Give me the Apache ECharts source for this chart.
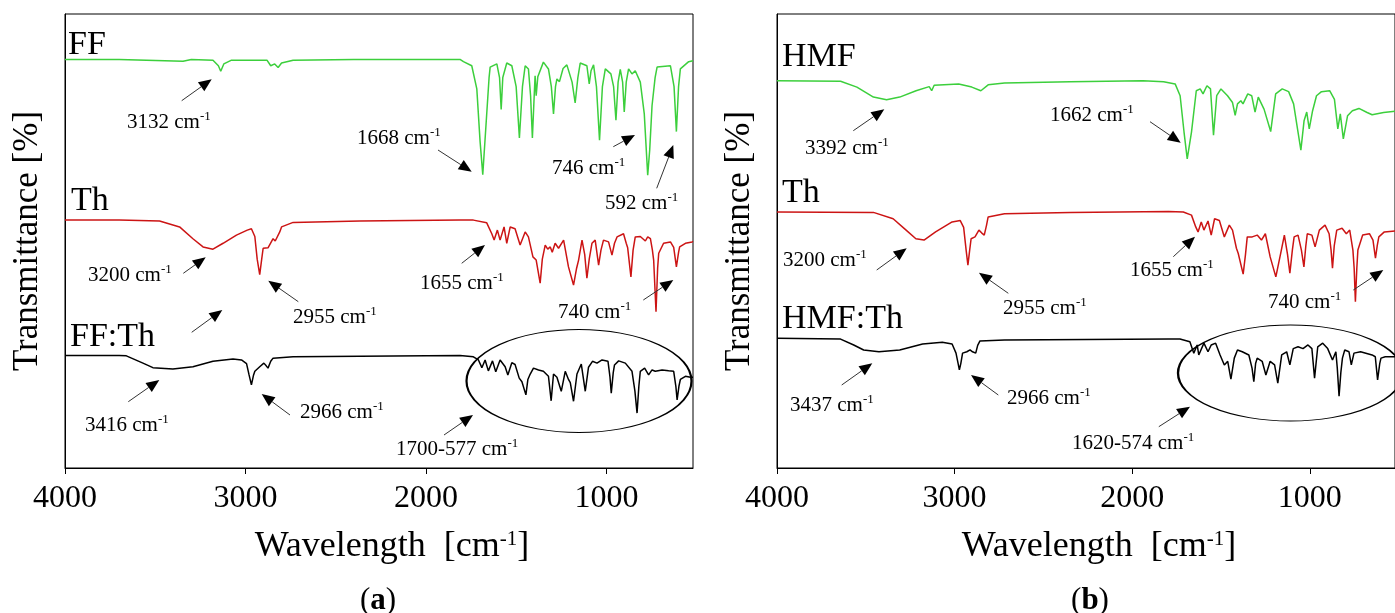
<!DOCTYPE html>
<html><head><meta charset="utf-8">
<script src="https://cdn.jsdelivr.net/npm/echarts@6/dist/echarts.min.js"></script>
<style>html,body{margin:0;padding:0;background:#fff}#c{width:1395px;height:613px}</style>
</head><body><div id="c"></div>
<script>
// ---------- data (wavenumber [cm-1], transmittance offset [%]) ----------
const xTicks = [1000, 2000, 3000, 4000];

const ffA = [[4000,90.0],[3700,90.0],[3346,89.6],[3300,90.0],[3180,89.8],[3150,88.6],[3137,87.4],[3120,89.0],[3080,89.8],[2880,89.8],[2860,88.6],[2850,88.3],[2838,89.0],[2819,88.2],[2800,89.2],[2736,89.8],[2400,90.0],[1811,90.0],[1792,89.5],[1746,88.6],[1718,83.5],[1700,72],[1685,64.6],[1666,76.2],[1650,86],[1644,88.3],[1607,89.0],[1592,86],[1583,79.0],[1574,86],[1552,89.2],[1524,88.6],[1500,84],[1482,72.7],[1465,84],[1450,88.6],[1432,87.9],[1420,82],[1410,72.7],[1400,82],[1395,86.4],[1389,82.0],[1380,86.2],[1349,89.4],[1321,87.9],[1305,84],[1293,78.0],[1282,84],[1274,85.7],[1267,86],[1260,85.1],[1240,88],[1219,88.8],[1190,85],[1173,80.4],[1158,86],[1145,89.2],[1108,88.6],[1095,84.6],[1085,87.5],[1071,88.8],[1055,84],[1038,72.2],[1022,84],[1006,87.9],[975,86.8],[960,84],[947,76.6],[935,85],[923,87.8],[910,85],[901,78.4],[890,85],[877,87.9],[858,86.8],[840,87.5],[812,85.0],[790,78],[771,64.5],[760,70],[747,79.8],[730,86],[719,88.3],[645,88.6],[625,84],[612,74.1],[600,84],[590,87.9],[544,89.5],[520,89.7]];

const thA = [[4000,54.6],[3700,54.6],[3476,54.4],[3365,53.1],[3291,50.5],[3235,48.7],[3180,48.2],[3124,49.5],[3050,51.3],[2990,52.4],[2967,52.7],[2948,51.0],[2935,46],[2921,42.6],[2910,46],[2902,48.4],[2875,48.5],[2847,50.5],[2835,50.0],[2825,49.7],[2810,52],[2800,53.1],[2736,54.1],[2366,54.4],[1811,54.6],[1737,54.6],[1663,54.0],[1635,51.6],[1622,50.2],[1604,52.4],[1589,50.2],[1567,53.1],[1552,49.5],[1533,53.1],[1506,52.7],[1478,49.1],[1450,52.0],[1432,50.9],[1407,46.5],[1389,45.8],[1367,40.7],[1355,46],[1339,49.1],[1325,48.2],[1311,48.7],[1300,47.5],[1284,49.5],[1265,48.4],[1237,50.2],[1210,44.3],[1182,40.3],[1165,44],[1154,45.8],[1135,50.2],[1120,47],[1108,41.8],[1095,46],[1080,49.5],[1062,50.2],[1043,44.7],[1030,48],[1016,50.2],[988,49.8],[969,46.9],[955,49.5],[941,50.9],[905,51.6],[890,49.5],[882,48.5],[864,42.1],[852,48],[840,50.9],[812,51.0],[784,50.0],[771,50.9],[756,50.5],[745,48],[738,45.8],[725,34.4],[716,44],[710,47.3],[683,49.5],[645,49.8],[627,48.6],[612,44.3],[600,47.5],[594,48.7],[562,49.5],[525,49.8],[520,49.9]];

const ffthA = [[4000,24.8],[3700,24.8],[3660,24.7],[3568,23.1],[3513,22.1],[3402,21.8],[3291,22.3],[3180,23.5],[3069,24.0],[3022,23.8],[2994,23.0],[2980,20.5],[2967,18.3],[2955,20.5],[2948,21.3],[2921,22.3],[2898,23.1],[2885,22.5],[2875,22.0],[2860,23.5],[2847,24.2],[2736,24.5],[1811,24.8],[1737,24.5],[1709,23.8],[1690,22.1],[1672,23.8],[1654,21.4],[1631,23.6],[1613,21.2],[1589,23.8],[1561,22.3],[1546,20.5],[1524,23.2],[1506,22.8],[1483,19.8],[1468,19.0],[1446,16.1],[1435,19.5],[1422,20.7],[1404,22.0],[1376,21.6],[1349,21.3],[1321,20.2],[1306,14.8],[1293,20.7],[1274,20.0],[1250,16.9],[1228,21.3],[1210,19.5],[1200,18.8],[1182,14.7],[1163,20.7],[1139,22.9],[1117,16.9],[1099,22.2],[1077,23.5],[1052,23.1],[1024,23.8],[991,23.5],[980,20],[973,16.5],[962,21],[955,22.7],[932,23.6],[895,23.1],[858,21.3],[842,17],[830,12.1],[820,18],[812,21.3],[788,22.0],[766,20.5],[747,21.6],[729,21.3],[691,21.6],[655,21.4],[627,21.3],[615,18],[608,15.0],[598,18],[590,19.5],[562,20.2],[534,20.0],[520,20.0]];

const hmfB = [[4000,85.3],[3642,85.2],[3550,83.9],[3457,81.7],[3383,81.1],[3309,81.7],[3217,83.1],[3143,84.0],[3129,83.1],[3115,84.3],[2977,84.6],[2903,83.9],[2852,83.1],[2811,84.4],[2719,84.8],[2349,85.1],[1939,85.3],[1823,85.1],[1758,84.6],[1730,82.0],[1708,74.0],[1690,68.1],[1666,74.0],[1639,83.1],[1617,83.5],[1601,82.4],[1579,84.2],[1559,83.5],[1542,73.3],[1524,82.0],[1500,83.5],[1463,82.0],[1435,80.5],[1420,77.7],[1407,80.2],[1388,80.9],[1376,80.2],[1349,82.4],[1327,82.0],[1308,78.4],[1290,81.7],[1257,79.0],[1220,74.1],[1192,82.4],[1155,83.5],[1119,82.9],[1091,80.2],[1069,74.7],[1050,70.0],[1032,76.5],[1017,78.4],[1003,74.7],[984,78.7],[962,82.0],[934,82.9],[888,83.1],[861,81.2],[842,74.7],[828,78.0],[811,72.5],[787,77.6],[760,78.7],[723,79.2],[677,78.3],[649,77.8],[584,78.3],[520,78.6]];

const thB = [[4000,56.4],[3457,56.3],[3346,54.9],[3273,52.4],[3218,50.5],[3172,50.2],[3107,52.0],[3014,54.2],[2968,54.5],[2949,53.0],[2935,48],[2925,44.7],[2915,48],[2907,50.5],[2885,50.9],[2863,52.4],[2848,51.8],[2833,51.3],[2820,53.5],[2811,55.3],[2719,56.0],[2349,56.3],[1795,56.5],[1712,56.4],[1666,55.7],[1642,53.1],[1629,52.0],[1611,54.2],[1596,52.4],[1573,54.4],[1555,51.3],[1536,54.9],[1509,54.5],[1481,50.9],[1453,53.5],[1435,52.4],[1413,48.4],[1403,47.3],[1375,42.7],[1362,47],[1352,50.9],[1324,50.9],[1296,51.3],[1272,50.2],[1250,51.6],[1223,46.5],[1191,42.1],[1162,47.6],[1143,51.3],[1125,47],[1112,42.9],[1098,48],[1088,50.9],[1066,51.3],[1047,48.0],[1033,44.3],[1022,49],[1014,51.6],[988,51.3],[970,48.7],[946,52.4],[914,53.5],[891,51.6],[880,48],[872,44.0],[862,49],[848,52.4],[818,52.8],[794,51.6],[775,52.4],[757,48.0],[750,44],[743,36.6],[735,44],[729,48.0],[702,51.3],[664,51.6],[644,50.2],[630,46.2],[620,49],[611,50.9],[580,52.0],[520,52.2]];

const hmfthB = [[4000,28.6],[3642,28.4],[3568,27.1],[3512,26.0],[3426,25.6],[3309,26.0],[3180,27.3],[3069,27.7],[3014,27.3],[2992,25.3],[2980,23],[2973,21.6],[2965,23],[2955,25.3],[2931,25.6],[2913,26.0],[2899,25.6],[2881,25.3],[2870,27],[2857,28.0],[2719,28.2],[1795,28.4],[1731,28.4],[1675,27.8],[1653,25.3],[1634,27.1],[1625,24.9],[1596,27.5],[1573,25.6],[1555,27.1],[1530,27.5],[1505,24.9],[1481,22.7],[1462,23.5],[1444,19.6],[1425,24.2],[1407,26.0],[1380,25.6],[1343,24.9],[1325,22],[1315,19.0],[1305,23],[1296,24.2],[1268,23.5],[1247,20.5],[1223,23.5],[1198,22.7],[1180,18.7],[1158,24.9],[1130,25.6],[1112,22.7],[1093,26.3],[1066,26.7],[1038,26.3],[1010,27.1],[988,26.3],[973,19.8],[955,26.7],[927,27.5],[899,26.3],[872,23.8],[853,25.6],[845,22],[835,15.8],[825,21],[816,24.2],[803,26.0],[779,25.6],[766,22.7],[751,25.3],[714,25.6],[649,24.9],[631,24.5],[618,19.4],[606,23],[599,24.2],[575,24.5],[520,24.5]];

const seriesNamesA = ['FF', 'Th', 'FF:Th'];
const seriesNamesB = ['HMF', 'Th', 'HMF:Th'];

// annotation texts (peak labels)
const notesA = ['3132', '1668', '746', '592', '3200', '2955', '1655', '740', '3416', '2966', '1700-577'];
const notesB = ['3392', '1662', '3200', '2955', '1655', '740', '3437', '2966', '1620-574'];

// ---------- layout / style ----------
const FONT = '"Liberation Serif", "Times New Roman", serif';
const GREEN = '#3ccf3c', RED = '#cc1414', BLACK = '#000';

// label positions [left x, middle y]; arrows [tailX, tailY, tipX, tipY]
const noteLayoutA = [
  [127,122,[181.7,100.7,211.7,79.3]],
  [357,138,[438,150,471.7,171.7]],
  [552,168,[613.3,146.7,635,135]],
  [605,203,[656.7,188.3,673.3,145]],
  [88,275,[183.3,273.3,205.7,257.3]],
  [293,317,[298.3,301.7,268.3,280.7]],
  [420,283,[461.7,263.3,485,245]],
  [558,312,[643.3,300,673.3,280]],
  [85,425,[128.3,401.7,159.3,380]],
  [300,412,[290,415,261.7,394]],
  [396,449,[444,435,473,415]]
];
const extraArrowsA = [[191.7,332.3,222.3,310]];
const noteLayoutB = [
  [805,148,[853.3,130.7,884.3,109.3]],
  [1050,115,[1150,121.7,1180.7,142.7]],
  [783,260,[876.7,270,906.7,248.3]],
  [1003,308,[1008.3,293.3,979,272.7]],
  [1130,270,[1173.3,256.7,1195,236.7]],
  [1268,302,[1353.3,290,1383.3,270]],
  [790,405,[841.7,385,872.3,363.3]],
  [1007,398,[998.3,395,971,375]],
  [1072,443,[1158.8,426.7,1190,406.7]]
];
const seriesLabelLayout = [[68,45],[71,201],[70,337],[782,57],[782,193],[782,319]];
const ellipses = [[579,381,112.5,51.5],[1290.5,373,112.5,48]];

const chart = echarts.init(document.getElementById('c'), null, {renderer: 'canvas'});

function xAxisDef(gridIndex) {
  return {
    gridIndex, type: 'value', inverse: true, min: 520, max: 4000,
    axisLine: {show: true, onZero: false, lineStyle: {color: '#000', width: 1}},
    axisTick: {show: true, customValues: xTicks, length: 6, inside: false, lineStyle: {color: '#000'}},
    axisLabel: {customValues: xTicks, formatter: v => String(v), fontFamily: FONT, fontSize: 32, color: '#000', margin: 15},
    splitLine: {show: false},
    name: '{n|Wavelength  [cm}{s|-1}{n|]}',
    nameLocation: 'middle', nameGap: 61,
    nameTextStyle: {
      fontFamily: FONT, color: '#000', padding: [0, 0, 0, 26],
      rich: {
        n: {fontFamily: FONT, fontSize: 36, color: '#000'},
        s: {fontFamily: FONT, fontSize: 21, color: '#000', padding: [0, 0, 15, 0]}
      }
    }
  };
}
function yAxisDef(gridIndex) {
  return {
    gridIndex, type: 'value', min: 0, max: 100,
    axisLine: {show: true, lineStyle: {color: '#000'}},
    axisTick: {show: false}, axisLabel: {show: false}, splitLine: {show: false},
    name: 'Transmittance [%]', nameLocation: 'middle', nameGap: 20,
    nameTextStyle: {fontFamily: FONT, fontSize: 35, color: '#000'}
  };
}
function lineSeries(name, data, color, xi) {
  return {
    name, type: 'line', data, xAxisIndex: xi, yAxisIndex: xi,
    showSymbol: false, symbol: 'none', smooth: false, clip: true,
    lineStyle: {color, width: 1.5}, itemStyle: {color},
    emphasis: {disabled: true}, silent: true, animation: false
  };
}

const graphics = [];
function arrow(a) {
  const [x1, y1, x2, y2] = a;
  const dx = x2 - x1, dy = y2 - y1, L = Math.hypot(dx, dy);
  const ux = dx / L, uy = dy / L, hl = 13, hw = 5.5;
  const bx = x2 - ux * hl, by = y2 - uy * hl;
  graphics.push({type: 'line', z: 100, silent: true,
    shape: {x1, y1, x2: bx, y2: by}, style: {stroke: '#333', lineWidth: 1}});
  graphics.push({type: 'polygon', z: 100, silent: true,
    shape: {points: [[x2, y2], [bx - uy * hw, by + ux * hw], [bx + uy * hw, by - ux * hw]]},
    style: {fill: '#000'}});
}
const noteRich = {
  n: {fontFamily: FONT, fontSize: 21, fill: '#000', color: '#000'},
  s: {fontFamily: FONT, fontSize: 13, fill: '#000', color: '#000', padding: [0, 0, 10, 0]}
};
function note(text, lay) {
  graphics.push({type: 'text', z: 100, silent: true, x: lay[0], y: lay[1],
    style: {text: '{n|' + text + ' cm}{s|-1}', rich: noteRich, fill: '#000',
      align: 'left', verticalAlign: 'middle', textAlign: 'left', textVerticalAlign: 'middle'}});
  arrow(lay[2]);
}
notesA.forEach((t, i) => note(t, noteLayoutA[i]));
notesB.forEach((t, i) => note(t, noteLayoutB[i]));
extraArrowsA.forEach(arrow);

seriesNamesA.concat(seriesNamesB).forEach((t, i) => {
  const p = seriesLabelLayout[i];
  graphics.push({type: 'text', z: 100, silent: true, x: p[0], y: p[1],
    style: {text: t, fontFamily: FONT, fontSize: 34, fill: '#000',
      align: 'left', verticalAlign: 'middle', textAlign: 'left', textVerticalAlign: 'middle'}});
});
ellipses.forEach(e => {
  graphics.push({type: 'circle', z: 90, silent: true, x: e[0], y: e[1], scaleX: e[2] / e[3],
    shape: {cx: 0, cy: 0, r: e[3]}, style: {fill: 'none', stroke: '#000', lineWidth: 1, strokeNoScale: true}});
});
[['a', 378], ['b', 1090]].forEach(([c, x]) => {
  graphics.push({type: 'text', z: 100, silent: true, x, y: 601,
    style: {text: '{n|(}{b|' + c + '}{n|)}', fill: '#000',
      rich: {n: {fontFamily: FONT, fontSize: 31, fill: '#000', color: '#000'},
             b: {fontFamily: FONT, fontSize: 31, fontWeight: 'bold', fill: '#000', color: '#000'}},
      align: 'center', verticalAlign: 'middle', textAlign: 'center', textVerticalAlign: 'middle'}});
});

chart.setOption({
  animation: false,
  backgroundColor: '#fff',
  grid: [
    {left: 65, top: 14, width: 628, height: 454, show: true, borderColor: '#000', borderWidth: 1, containLabel: false},
    {left: 777, top: 14, width: 628, height: 454, show: true, borderColor: '#000', borderWidth: 1, containLabel: false}
  ],
  xAxis: [xAxisDef(0), xAxisDef(1)],
  yAxis: [yAxisDef(0), yAxisDef(1)],
  series: [
    lineSeries(seriesNamesA[0], ffA, GREEN, 0),
    lineSeries(seriesNamesA[1], thA, RED, 0),
    lineSeries(seriesNamesA[2], ffthA, BLACK, 0),
    lineSeries(seriesNamesB[0], hmfB, GREEN, 1),
    lineSeries(seriesNamesB[1], thB, RED, 1),
    lineSeries(seriesNamesB[2], hmfthB, BLACK, 1)
  ],
  graphic: graphics
});
</script>
</body></html>
